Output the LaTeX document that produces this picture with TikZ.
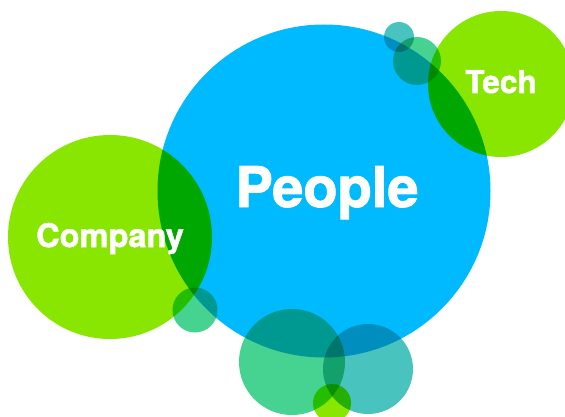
\documentclass[tikz,border=0pt]{standalone}
\usepackage{fontspec}
\setmainfont{TeX Gyre Heros}
\newfontfamily\heavyfont[BoldFont={*}, FakeBold=1.6]{TeX Gyre Heros Bold}
\definecolor{cblue}{RGB}{0,186,255}
\definecolor{clime}{RGB}{136,230,0}
\definecolor{cmint}{RGB}{70,210,145}
\definecolor{cteal}{RGB}{72,195,190}
\tikzset{
  bub/.style={circle, inner sep=0pt, minimum size=#1, blend mode=multiply},
  lbl/.style={text=white, inner sep=0pt, anchor=base}
}
\begin{document}
\begin{tikzpicture}[x=1pt,y=-1pt]
\useasboundingbox (0,0) rectangle (565,417);
\clip (0,0) rectangle (565,417);
\node[circle, inner sep=0pt, minimum size=333pt, fill=cblue] (people) at (324,191) {};
\node[bub=204pt, fill=clime] (company) at (110,237) {};
\node[bub=146pt, fill=clime] (tech) at (501,84) {};
\node[bub=30pt, fill=cteal] (s1) at (399,37) {};
\node[bub=48pt, fill=cmint] (s2) at (417,61) {};
\node[bub=45pt, fill=cmint] (s3) at (195,310) {};
\node[bub=106pt, fill=cmint] (s4) at (292,362) {};
\node[bub=90pt, fill=cteal] (s5) at (368,369) {};
\node[bub=38pt, fill=clime] (s6) at (332,403) {};
\node[lbl, font=\heavyfont\fontsize{56}{56}\selectfont] (tp) at (327,207) {People};
\node[lbl, font=\heavyfont\fontsize{32.5}{32.5}\selectfont] (tc) at (110,247) {Company};
\node[lbl, font=\heavyfont\fontsize{31.5}{31.5}\selectfont] (tt) at (501,93) {Tech};
\end{tikzpicture}
\end{document}
